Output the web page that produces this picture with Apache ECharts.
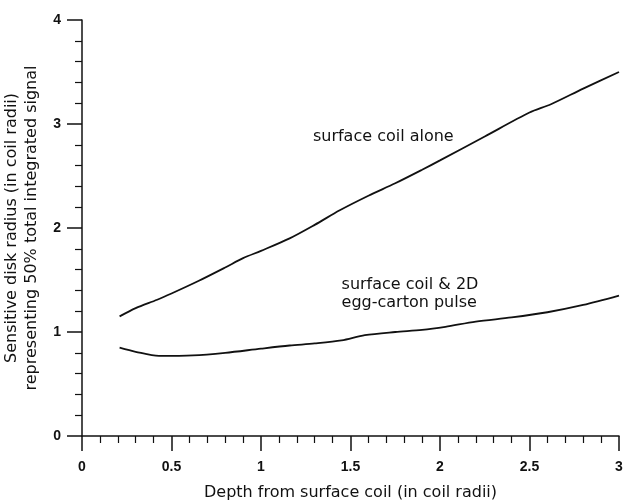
<!DOCTYPE html>
<html>
<head>
<meta charset="utf-8">
<script src="https://cdn.jsdelivr.net/npm/echarts@6/dist/echarts.min.js"></script>
<style>
  html, body { margin: 0; padding: 0; background: #fff; }
  #main { width: 625px; height: 501px; }
</style>
</head>
<body>
<div id="main"></div>
<script>
// depth (coil radii) vs sensitive disk radius
var aloneX = [0.21, 0.3, 0.42, 0.5, 0.65, 0.8, 0.9, 1.0, 1.16, 1.3, 1.44, 1.6, 1.75, 1.9, 2.0, 2.25, 2.5, 2.62, 2.8, 3.0];
var aloneY = [1.15, 1.23, 1.31, 1.37, 1.49, 1.62, 1.71, 1.78, 1.90, 2.03, 2.17, 2.31, 2.43, 2.56, 2.65, 2.88, 3.11, 3.19, 3.34, 3.50];

var eggX = [0.21, 0.3, 0.43, 0.62, 0.8, 1.0, 1.16, 1.3, 1.45, 1.58, 1.75, 1.9, 2.03, 2.2, 2.4, 2.6, 2.8, 3.0];
var eggY = [0.85, 0.81, 0.77, 0.775, 0.80, 0.84, 0.87, 0.89, 0.92, 0.97, 1.00, 1.02, 1.05, 1.10, 1.14, 1.19, 1.26, 1.35];

var xTicks = [0, 0.5, 1, 1.5, 2, 2.5, 3];
var yTicks = [0, 1, 2, 3, 4];

var NUM_FONT = '"Liberation Sans", Arial, sans-serif';
var TXT_FONT = '"DejaVu Sans", Verdana, sans-serif';
var INK = '#111';

function pairs(xs, ys) {
  return xs.map(function (x, i) { return [x, ys[i]]; });
}

var myChart = echarts.init(document.getElementById('main'));

var option = {
  animation: false,
  backgroundColor: '#fff',
  grid: {
    left: 82,
    right: 6,
    top: 20,
    bottom: 65,
    outerBoundsMode: 'none'
  },
  xAxis: {
    type: 'value',
    min: xTicks[0],
    max: xTicks[xTicks.length - 1],
    interval: 0.5,
    name: 'Depth from surface coil (in coil radii)',
    nameLocation: 'middle',
    nameGap: 49,
    nameTextStyle: { fontFamily: TXT_FONT, fontSize: 16, color: INK },
    axisLine: { onZero: false, lineStyle: { color: INK, width: 1.5 } },
    axisTick: { length: 15, lineStyle: { color: INK, width: 1.5 } },
    minorTick: { show: true, splitNumber: 5, length: 7, lineStyle: { color: INK, width: 1.2 } },
    axisLabel: {
      margin: 24,
      fontFamily: NUM_FONT, fontSize: 14, fontWeight: 'bold', color: INK,
      formatter: function (v) { return String(v); }
    },
    splitLine: { show: false }
  },
  yAxis: {
    type: 'value',
    min: yTicks[0],
    max: yTicks[yTicks.length - 1],
    interval: 1,
    name: 'Sensitive disk radius (in coil radii)\nrepresenting 50% total integrated signal',
    nameLocation: 'middle',
    nameGap: 38,
    nameTextStyle: { fontFamily: TXT_FONT, fontSize: 16, color: INK, lineHeight: 20 },
    axisLine: { onZero: false, lineStyle: { color: INK, width: 1.5 } },
    axisTick: { length: 15, lineStyle: { color: INK, width: 1.5 } },
    minorTick: { show: true, splitNumber: 5, length: 7, lineStyle: { color: INK, width: 1.2 } },
    axisLabel: {
      margin: 21,
      fontFamily: NUM_FONT, fontSize: 14, fontWeight: 'bold', color: INK
    },
    splitLine: { show: false }
  },
  series: [
    {
      name: 'surface coil alone',
      type: 'line',
      smooth: 0.3,
      symbol: 'none',
      lineStyle: { color: INK, width: 1.8 },
      data: pairs(aloneX, aloneY),
      markPoint: {
        symbol: 'circle',
        symbolSize: 0,
        silent: true,
        label: {
          show: true, position: 'right', distance: 0,
          fontFamily: TXT_FONT, fontSize: 16, color: INK,
          formatter: 'surface coil alone'
        },
        data: [{ coord: [1.29, 2.88] }]
      }
    },
    {
      name: 'surface coil & 2D egg-carton pulse',
      type: 'line',
      smooth: 0.3,
      symbol: 'none',
      lineStyle: { color: INK, width: 1.8 },
      data: pairs(eggX, eggY),
      markPoint: {
        symbol: 'circle',
        symbolSize: 0,
        silent: true,
        label: {
          show: true, position: 'right', distance: 0,
          fontFamily: TXT_FONT, fontSize: 16, color: INK, lineHeight: 18,
          formatter: 'surface coil & 2D\negg-carton pulse'
        },
        data: [{ coord: [1.45, 1.365] }]
      }
    }
  ]
};

myChart.setOption(option);
</script>
</body>
</html>
